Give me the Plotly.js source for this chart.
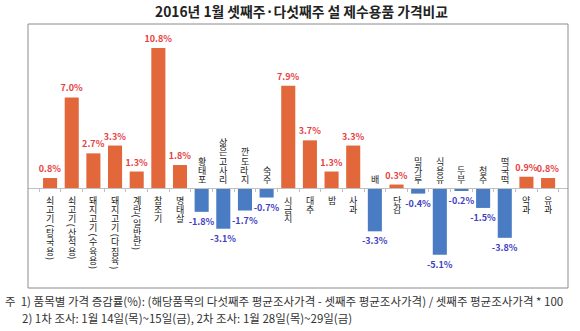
<!DOCTYPE html>
<html>
<head>
<meta charset="utf-8">
<script src="https://cdn.plot.ly/plotly-3.0.1.min.js"></script>
<style>
html,body{margin:0;padding:0;background:#fff;}
#chart{width:580px;height:331px;}
</style>
</head>
<body>
<div id="chart"></div>
<script>
var categories = ["쇠고기(탕국용)","쇠고기(산적용)","돼지고기(수육용)","돼지고기(다짐육)","계란(일반란)","참조기","명태살",
  "황태포","삶은고사리","깐도라지","숙주","시금치","대추","밤","사과","배","단감","밀가루","식용유","두부","청주","떡국떡","약과","유과"];
var values = [0.8,7.0,2.7,3.3,1.3,10.8,1.8,-1.8,-3.1,-1.7,-0.7,7.9,3.7,1.3,3.3,-3.3,0.3,-0.4,-5.1,-0.2,-1.5,-3.8,0.9,0.8];
var valueLabels = ["0.8%","7.0%","2.7%","3.3%","1.3%","10.8%","1.8%","-1.8%","-3.1%","-1.7%","-0.7%","7.9%","3.7%","1.3%","3.3%","-3.3%","0.3%","-0.4%","-5.1%","-0.2%","-1.5%","-3.8%","0.9%","0.8%"];
var titleText = "2016년 1월 셋째주·다섯째주 설 제수용품 가격비교";
var noteLines = ["주  1) 품목별 가격 증감률(%): (해당품목의 다섯째주 평균조사가격 - 셋째주 평균조사가격) / 셋째주 평균조사가격 * 100",
  "2) 1차 조사: 1월 14일(목)~15일(금), 2차 조사: 1월 28일(목)~29일(금)"];

var POS_BAR = "#E2683C", NEG_BAR = "#4A7CC3", POS_TXT = "#E8413F", NEG_TXT = "#3F3FC2";
var FONT = "'Noto Sans CJK KR', 'Noto Sans', sans-serif";

var idx = categories.map(function(_, i){ return i; });
var XR = [-1.02, 23.92], YR = [-7.66, 12.65];

var trace = {
  type: "bar",
  x: idx,
  y: values,
  marker: {color: values.map(function(v){ return v >= 0 ? POS_BAR : NEG_BAR; })},
  text: valueLabels,
  textposition: "outside",
  constraintext: "none",
  textfont: {family: FONT, size: 9, weight: "bold", color: values.map(function(v){ return v >= 0 ? POS_TXT : NEG_TXT; })},
  cliponaxis: false,
  hoverinfo: "none"
};
var axisTrace = {type: "scatter", x: [idx[0]], y: [0], xaxis: "x2", yaxis: "y", mode: "markers",
  marker: {opacity: 0}, hoverinfo: "none", showlegend: false};

var annotations = [];
var STEP = 9.3, PSTEP = 4.5;
categories.forEach(function(cat, i){
  var chars = Array.from(cat);
  var neg = values[i] < 0;
  var steps = chars.map(function(c){ return (c === "(" || c === ")") ? PSTEP : STEP; });
  var total = steps.reduce(function(a,b){ return a+b; }, 0);
  var off = neg ? -(4 + total) : 7;
  chars.forEach(function(c, k){
    var isP = (c === "(" || c === ")");
    annotations.push({
      x: i, y: 0, xref: "x", yref: "y",
      text: c, showarrow: false,
      textangle: isP ? 90 : 0,
      yanchor: "middle", xanchor: "center",
      yshift: -(off + steps[k] / 2),
      borderpad: 0,
      font: {family: FONT, size: 9, color: "#222"}
    });
    off += steps[k];
  });
});

annotations.push({
  xref: "paper", yref: "paper", x: (301 - 28) / 540, y: 1, yanchor: "middle", xanchor: "center",
  yshift: 24 - 11, showarrow: false, text: "<b>" + titleText + "</b>",
  font: {family: FONT, size: 13.8, color: "#222"}
});
noteLines.forEach(function(t, k){
  annotations.push({
    xref: "paper", yref: "paper", x: (k === 0 ? 3 : 20) / 540 - 28 / 540, y: 0, xanchor: "left", yanchor: "middle",
    yshift: -(301 - 288) - k * 17, showarrow: false, text: t,
    font: {family: FONT, size: 11.5, color: "#333"}
  });
});

var boundaries = [];
for (var b = 0; b <= categories.length; b++) boundaries.push(b - 0.5);

var layout = {
  width: 580, height: 331,
  margin: {l: 28, r: 12, t: 24, b: 43},
  paper_bgcolor: "#fff", plot_bgcolor: "#fff",
  showlegend: false,
  bargap: 0.35,
  xaxis: {range: XR, showticklabels: false, showgrid: false, zeroline: false, ticks: "", fixedrange: true},
  xaxis2: {range: XR, overlaying: "x", anchor: "free", position: (0 - YR[0]) / (YR[1] - YR[0]), side: "bottom",
    showline: true, linecolor: "#c0c0c0", linewidth: 1, ticks: "outside", ticklen: 3, tickcolor: "#c0c0c0",
    tickvals: boundaries, showticklabels: false, showgrid: false, zeroline: false},
  yaxis: {range: YR, showticklabels: false, showgrid: false, zeroline: true, zerolinecolor: "#c0c0c0", zerolinewidth: 1, ticks: ""},
  shapes: [{type: "rect", xref: "paper", yref: "paper", x0: 0, x1: 1, y0: 0, y1: 1, line: {color: "#8c8c8c", width: 1}}],
  annotations: annotations
};

Plotly.newPlot("chart", [trace, axisTrace], layout, {staticPlot: true});
</script>
</body>
</html>
